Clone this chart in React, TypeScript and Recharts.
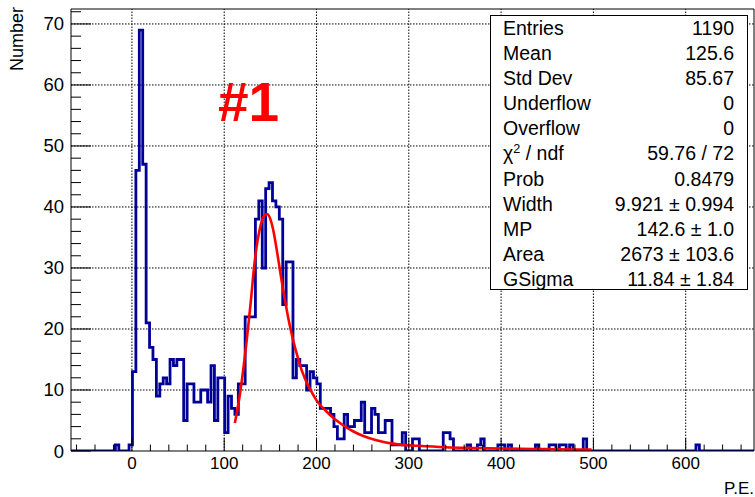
import { LineChart, Line, XAxis, YAxis, ReferenceLine } from 'recharts';

// histogram: 200 bins of 3.7 P.E. starting at -66
const binLow = -66;
const binWidth = 3.7;
const binCounts = [
  0, 0, 0, 0, 0, 0, 0, 0, 0, 0,
  0, 0, 0, 1, 0, 0, 0, 1, 13, 46,
  69, 47, 21, 17, 15, 9, 11, 12, 11, 15,
  14, 15, 15, 5, 11, 11, 8, 8, 10, 10,
  8, 14, 5, 12, 12, 3, 9, 7, 6, 11,
  11, 22, 22, 22, 38, 41, 30, 43, 44, 41,
  40, 38, 24, 31, 31, 12, 15, 14, 14, 10,
  13, 12, 11, 7, 7, 7, 6, 4, 2, 2,
  6, 4, 4, 5, 5, 8, 3, 3, 7, 6,
  3, 3, 5, 5, 1, 1, 1, 3, 0, 0,
  2, 2, 0, 0, 0, 0, 0, 0, 0, 3,
  3, 2, 0, 0, 0, 0, 1, 0, 0, 1,
  2, 0, 0, 0, 0, 1, 1, 0, 1, 0,
  0, 0, 0, 0, 0, 0, 1, 0, 0, 0,
  1, 1, 0, 1, 1, 0, 1, 0, 0, 0,
  2, 0, 0, 0, 0, 0, 0, 0, 0, 0,
  0, 0, 0, 0, 0, 0, 0, 0, 0, 0,
  0, 0, 0, 0, 0, 0, 0, 0, 0, 0,
  0, 0, 0, 1, 0, 0, 0, 0, 0, 0,
  0, 0, 0, 0, 0, 0, 0, 0, 0, 0,
];

// fitted Landau (x) Gauss curve
const fitX = [111.5, 114, 117, 120, 123, 126, 129, 132, 135, 138, 141, 144, 147, 150, 153, 156, 159, 162, 165, 168, 171, 174, 177, 180, 185, 190, 195, 200, 210, 220, 230, 240, 250, 265, 290, 310, 340, 370, 400, 450, 498];
const fitY = [4.6, 6.5, 9.3, 12.6, 16.3, 20.4, 24.8, 29.6, 33.4, 36.0, 37.8, 38.7, 38.8, 38.0, 36.3, 33.8, 31.0, 28.1, 25.4, 22.9, 20.6, 18.6, 16.8, 15.2, 12.8, 11.0, 9.6, 8.3, 6.6, 5.2, 4.1, 3.2, 2.5, 1.75, 1.05, 0.85, 0.62, 0.5, 0.4, 0.3, 0.22];

const xTicks = [-60, -40, -20, 0, 20, 40, 60, 80, 100, 120, 140, 160, 180, 200, 220, 240, 260, 280, 300, 320, 340, 360, 380, 400, 420, 440, 460, 480, 500, 520, 540, 560, 580, 600, 620, 640, 660];
const yTicks = [0, 2, 4, 6, 8, 10, 12, 14, 16, 18, 20, 22, 24, 26, 28, 30, 32, 34, 36, 38, 40, 42, 44, 46, 48, 50, 52, 54, 56, 58, 60, 62, 64, 66, 68, 70, 72];
const xGrid = [0, 100, 200, 300, 400, 500, 600];
const yGrid = [10, 20, 30, 40, 50, 60, 70];

const statLabels = ['Entries', 'Mean', 'Std Dev', 'Underflow', 'Overflow', 'chi2', 'Prob', 'Width', 'MP', 'Area', 'GSigma'];
const statValues = ['1190', '125.6', '85.67', '0', '0', '59.76 / 72', '0.8479', '9.921 ± 0.994', '142.6 ± 1.0', '2673 ± 103.6', '11.84 ± 1.84'];

const X_MIN = -66;
const X_MAX = 674;
const Y_MAX = 72.45;
const FONT = "'Liberation Sans', Arial, sans-serif";

const histData = binCounts.map((c, i) => ({ x: binLow + i * binWidth, y: c }));
histData.push({ x: binLow + binCounts.length * binWidth, y: 0 });
const fitData = fitX.map((x, i) => ({ x, y: fitY[i] }));

const XTick = (props: any) => {
  const { x, y, payload } = props;
  const v = payload.value;
  const major = v % 100 === 0;
  return (
    <g>
      <line x1={x} x2={x} y1={y} y2={y - (major ? 13 : 6.5)} stroke="#000" strokeWidth={1} />
      {major && (
        <text x={x} y={y + 18} textAnchor="middle" fontSize={17} fontFamily={FONT} fill="#000">
          {v}
        </text>
      )}
    </g>
  );
};

const YTick = (props: any) => {
  const { x, y, payload } = props;
  const v = payload.value;
  const major = v % 10 === 0;
  return (
    <g>
      <line x1={x} x2={x + (major ? 20 : 10)} y1={y} y2={y} stroke="#000" strokeWidth={1} />
      {major && (
        <text x={x - 7} y={y + 6.5} textAnchor="end" fontSize={18.5} fontFamily={FONT} fill="#000">
          {v}
        </text>
      )}
    </g>
  );
};

function StatLabel({ name }: { name: string }) {
  if (name === 'chi2') {
    return (
      <span>
        χ<sup style={{ fontSize: '0.65em', verticalAlign: '0.55em', lineHeight: 0 }}>2</sup> / ndf
      </span>
    );
  }
  return <span>{name}</span>;
}

export default function App() {
  return (
    <div style={{ position: 'absolute', left: 0, top: 0, width: 755, height: 497, background: '#fff', fontFamily: FONT, overflow: 'hidden' }}>
      <LineChart width={755} height={497} margin={{ top: 9, right: 1, left: 0, bottom: 0 }}>
        <XAxis
          type="number"
          dataKey="x"
          domain={[X_MIN, X_MAX]}
          ticks={xTicks}
          interval={0}
          allowDataOverflow
          height={46}
          tickSize={0}
          tickMargin={0}
          tick={XTick}
          axisLine={{ stroke: '#000' }}
        />
        <YAxis
          type="number"
          dataKey="y"
          domain={[0, Y_MAX]}
          ticks={yTicks}
          interval={0}
          allowDataOverflow
          width={71}
          tickSize={0}
          tickMargin={0}
          tick={YTick}
          axisLine={{ stroke: '#000' }}
        />
        {xGrid.map(v => (
          <ReferenceLine key={'gx' + v} x={v} stroke="#000" strokeWidth={1} strokeDasharray="1.5 1.5" />
        ))}
        {yGrid.map(v => (
          <ReferenceLine key={'gy' + v} y={v} stroke="#000" strokeWidth={1} strokeDasharray="1.5 1.5" />
        ))}
        <ReferenceLine y={Y_MAX} stroke="#000" strokeWidth={1} />
        <ReferenceLine x={X_MAX} stroke="#000" strokeWidth={1} />
        <Line
          data={histData}
          dataKey="y"
          type="stepAfter"
          stroke="#000099"
          strokeWidth={2.8}
          dot={false}
          activeDot={false}
          isAnimationActive={false}
        />
        <Line
          data={fitData}
          dataKey="y"
          type="monotone"
          stroke="#ff0000"
          strokeWidth={2.6}
          dot={false}
          activeDot={false}
          isAnimationActive={false}
        />
      </LineChart>

      <svg width={755} height={497} style={{ position: 'absolute', left: 0, top: 0, pointerEvents: 'none' }}>
        <text transform="translate(23,7) rotate(-90)" textAnchor="end" fontSize={18} fontFamily={FONT} fill="#000">
          Number
        </text>
        <text x={754} y={494} textAnchor="end" fontSize={17} fontFamily={FONT} fill="#000">
          P.E.
        </text>
        <text x={218} y={121} fontSize={55} fontWeight="bold" fontFamily={FONT} fill="#ff0000">
          #1
        </text>
      </svg>

      <div
        style={{
          position: 'absolute',
          left: 490,
          top: 15,
          width: 258,
          height: 275,
          boxSizing: 'border-box',
          border: '1.5px solid #000',
          background: '#fff',
          paddingLeft: 12,
          paddingRight: 13,
          fontSize: 19.5,
          color: '#000',
        }}
      >
        {statLabels.map((name, i) => (
          <div key={name} style={{ display: 'flex', justifyContent: 'space-between', height: 25.1, lineHeight: '25.1px', whiteSpace: 'nowrap' }}>
            <StatLabel name={name} />
            <span>{statValues[i]}</span>
          </div>
        ))}
      </div>
    </div>
  );
}
